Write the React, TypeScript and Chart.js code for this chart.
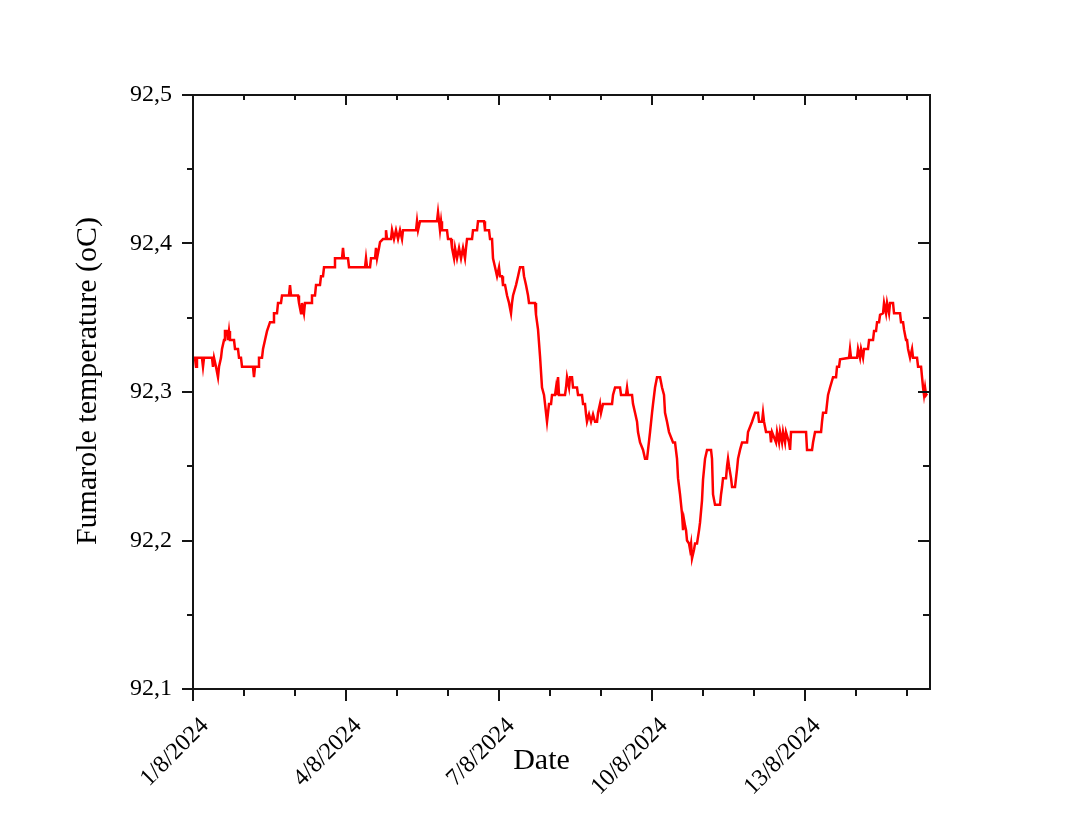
import { useEffect, useRef } from 'react';
import { Chart, registerables } from 'chart.js';

Chart.register(...registerables);

// [days since 1/8/2024 00:00, fumarole temperature in °C]
const readings: [number, number][] = [
  [0, 92.323], [0.039, 92.323], [0.059, 92.317], [0.078, 92.323], [0.176, 92.323], [0.196, 92.317], [0.216, 92.323],
  [0.373, 92.323], [0.392, 92.317], [0.412, 92.323], [0.451, 92.317], [0.49, 92.31], [0.51, 92.317], [0.549, 92.323],
  [0.569, 92.329], [0.608, 92.335], [0.627, 92.341], [0.667, 92.341], [0.686, 92.335], [0.706, 92.341], [0.725, 92.335],
  [0.804, 92.335], [0.824, 92.329], [0.882, 92.329], [0.902, 92.323], [0.941, 92.323], [0.961, 92.317], [1.176, 92.317],
  [1.196, 92.31], [1.216, 92.317], [1.275, 92.317], [1.294, 92.323], [1.353, 92.323], [1.373, 92.329], [1.412, 92.335],
  [1.451, 92.341], [1.51, 92.347], [1.569, 92.347], [1.588, 92.353], [1.647, 92.353], [1.667, 92.36], [1.725, 92.36],
  [1.745, 92.365], [1.882, 92.365], [1.902, 92.372], [1.922, 92.365], [2.059, 92.365], [2.078, 92.36], [2.118, 92.353],
  [2.137, 92.36], [2.176, 92.353], [2.196, 92.36], [2.314, 92.36], [2.333, 92.365], [2.392, 92.365], [2.412, 92.372],
  [2.49, 92.372], [2.51, 92.378], [2.549, 92.378], [2.569, 92.384], [2.765, 92.384], [2.784, 92.39], [2.922, 92.39],
  [2.941, 92.397], [2.961, 92.39], [3.039, 92.39], [3.059, 92.384], [3.373, 92.384], [3.392, 92.39], [3.412, 92.384],
  [3.471, 92.384], [3.49, 92.39], [3.569, 92.39], [3.588, 92.397], [3.608, 92.39], [3.647, 92.397], [3.667, 92.401],
  [3.725, 92.403], [3.765, 92.403], [3.784, 92.409], [3.804, 92.403], [3.882, 92.403], [3.902, 92.409], [3.941, 92.403],
  [3.98, 92.409], [4.02, 92.403], [4.059, 92.409], [4.098, 92.403], [4.118, 92.409], [4.373, 92.409], [4.392, 92.415],
  [4.412, 92.409], [4.451, 92.415], [4.784, 92.415], [4.804, 92.421], [4.824, 92.415], [4.843, 92.409], [4.863, 92.415],
  [4.882, 92.409], [4.98, 92.409], [5.0, 92.403], [5.059, 92.403], [5.078, 92.397], [5.118, 92.39], [5.137, 92.397],
  [5.176, 92.39], [5.216, 92.397], [5.255, 92.39], [5.294, 92.397], [5.333, 92.39], [5.353, 92.397], [5.373, 92.403],
  [5.471, 92.403], [5.49, 92.409], [5.569, 92.409], [5.588, 92.415], [5.706, 92.415], [5.725, 92.409], [5.804, 92.409],
  [5.824, 92.403], [5.863, 92.403], [5.882, 92.39], [5.922, 92.384], [5.961, 92.378], [6.0, 92.384], [6.02, 92.378],
  [6.059, 92.378], [6.078, 92.372], [6.118, 92.372], [6.157, 92.365], [6.196, 92.36], [6.235, 92.353], [6.255, 92.36],
  [6.275, 92.365], [6.333, 92.372], [6.373, 92.378], [6.412, 92.384], [6.471, 92.384], [6.49, 92.378], [6.529, 92.372],
  [6.569, 92.365], [6.588, 92.36], [6.706, 92.36], [6.725, 92.352], [6.765, 92.342], [6.804, 92.324], [6.843, 92.303],
  [6.882, 92.298], [6.902, 92.292], [6.941, 92.28], [6.98, 92.292], [7.02, 92.292], [7.039, 92.298], [7.098, 92.298],
  [7.118, 92.303], [7.137, 92.298], [7.157, 92.31], [7.176, 92.298], [7.294, 92.298], [7.314, 92.303], [7.333, 92.31],
  [7.373, 92.303], [7.392, 92.31], [7.431, 92.31], [7.451, 92.303], [7.529, 92.303], [7.549, 92.298], [7.627, 92.298],
  [7.647, 92.292], [7.686, 92.292], [7.706, 92.285], [7.725, 92.28], [7.765, 92.285], [7.804, 92.28], [7.843, 92.285],
  [7.882, 92.28], [7.922, 92.28], [7.941, 92.286], [7.98, 92.292], [8.0, 92.286], [8.039, 92.292], [8.216, 92.292],
  [8.235, 92.298], [8.275, 92.303], [8.373, 92.303], [8.392, 92.298], [8.49, 92.298], [8.51, 92.303], [8.529, 92.298],
  [8.608, 92.298], [8.627, 92.292], [8.667, 92.286], [8.706, 92.28], [8.725, 92.273], [8.765, 92.266], [8.824, 92.261],
  [8.863, 92.255], [8.902, 92.255], [8.922, 92.261], [8.961, 92.273], [9.0, 92.286], [9.02, 92.292], [9.059, 92.303],
  [9.098, 92.31], [9.157, 92.31], [9.196, 92.303], [9.235, 92.298], [9.255, 92.286], [9.294, 92.28], [9.333, 92.273],
  [9.412, 92.266], [9.451, 92.266], [9.49, 92.255], [9.51, 92.242], [9.549, 92.231], [9.588, 92.218], [9.608, 92.207],
  [9.627, 92.214], [9.647, 92.21], [9.667, 92.207], [9.686, 92.2], [9.725, 92.198], [9.745, 92.194], [9.765, 92.198],
  [9.784, 92.188], [9.824, 92.194], [9.843, 92.198], [9.882, 92.198], [9.922, 92.207], [9.941, 92.212], [9.98, 92.227],
  [10.0, 92.241], [10.039, 92.255], [10.078, 92.261], [10.157, 92.261], [10.176, 92.255], [10.196, 92.231], [10.235, 92.224],
  [10.333, 92.224], [10.353, 92.231], [10.373, 92.236], [10.392, 92.242], [10.451, 92.242], [10.471, 92.25], [10.49, 92.255],
  [10.51, 92.25], [10.549, 92.242], [10.569, 92.236], [10.627, 92.236], [10.647, 92.242], [10.667, 92.248], [10.686, 92.255],
  [10.725, 92.261], [10.765, 92.266], [10.863, 92.266], [10.882, 92.273], [10.961, 92.28], [11.02, 92.286], [11.078, 92.286],
  [11.098, 92.28], [11.157, 92.28], [11.176, 92.286], [11.196, 92.28], [11.235, 92.273], [11.314, 92.273], [11.333, 92.266],
  [11.353, 92.273], [11.431, 92.266], [11.451, 92.273], [11.49, 92.266], [11.51, 92.273], [11.549, 92.266], [11.569, 92.273],
  [11.608, 92.266], [11.627, 92.273], [11.686, 92.266], [11.706, 92.261], [11.725, 92.273], [12.02, 92.273], [12.039, 92.261],
  [12.137, 92.261], [12.157, 92.266], [12.196, 92.273], [12.314, 92.273], [12.333, 92.28], [12.353, 92.286], [12.412, 92.286],
  [12.431, 92.292], [12.451, 92.298], [12.49, 92.303], [12.549, 92.31], [12.608, 92.31], [12.627, 92.317], [12.667, 92.317],
  [12.686, 92.322], [12.863, 92.323], [12.882, 92.329], [12.902, 92.323], [13.02, 92.323], [13.039, 92.329], [13.078, 92.323],
  [13.098, 92.329], [13.137, 92.323], [13.157, 92.329], [13.235, 92.329], [13.255, 92.335], [13.333, 92.335], [13.353, 92.341],
  [13.392, 92.341], [13.412, 92.347], [13.451, 92.347], [13.471, 92.352], [13.529, 92.353], [13.549, 92.36], [13.588, 92.353],
  [13.608, 92.36], [13.647, 92.353], [13.667, 92.36], [13.725, 92.36], [13.745, 92.353], [13.863, 92.353], [13.882, 92.347],
  [13.922, 92.347], [13.941, 92.342], [13.98, 92.335], [14.0, 92.335], [14.02, 92.329], [14.059, 92.323], [14.098, 92.329],
  [14.118, 92.323], [14.196, 92.323], [14.216, 92.317], [14.275, 92.317], [14.294, 92.31], [14.314, 92.303], [14.333, 92.298],
  [14.353, 92.303], [14.373, 92.298], [14.392, 92.299],
];

const xMajorDays = [0, 3, 6, 9, 12];
const xTickLabels = ['1/8/2024', '4/8/2024', '7/8/2024', '10/8/2024', '13/8/2024'];
const yMajorValues = [92.1, 92.2, 92.3, 92.4, 92.5];
const yTickLabels = ['92,1', '92,2', '92,3', '92,4', '92,5'];
const xTitle = 'Date';
const yTitle = 'Fumarole temperature (oC)';
const xMin = 0;
const xMax = 14.45;
const yMin = 92.1;
const yMax = 92.5;

const SERIF = '"Liberation Serif", "Times New Roman", Times, serif';

function xLabel(v: number): string {
  const i = xMajorDays.findIndex((d) => Math.abs(d - v) < 1e-6);
  return i >= 0 ? xTickLabels[i] : '';
}
function yLabel(v: number): string {
  const i = yMajorValues.findIndex((d) => Math.abs(d - v) < 1e-6);
  return i >= 0 ? yTickLabels[i] : '';
}

const framePlugin = {
  id: 'originFrame',
  afterDraw(chart: any) {
    const { ctx, chartArea: a, scales } = chart;
    const xs = scales.x;
    const ys = scales.y;
    ctx.save();
    ctx.strokeStyle = '#151515';
    ctx.lineWidth = 2;
    ctx.lineCap = 'butt';
    ctx.strokeRect(a.left, a.top, a.right - a.left, a.bottom - a.top);
    ctx.beginPath();
    xs.ticks.forEach((t: any) => {
      const px = Math.round(xs.getPixelForValue(t.value));
      const major = xLabel(t.value) !== '';
      ctx.moveTo(px, a.bottom);
      ctx.lineTo(px, a.bottom + (major ? 12 : 7));
      ctx.moveTo(px, a.top);
      ctx.lineTo(px, a.top + (major ? 10 : 5));
    });
    ys.ticks.forEach((t: any) => {
      const py = Math.round(ys.getPixelForValue(t.value));
      const major = yLabel(t.value) !== '';
      ctx.moveTo(a.left, py);
      ctx.lineTo(a.left - (major ? 11 : 6), py);
      ctx.moveTo(a.right, py);
      ctx.lineTo(a.right - (major ? 12 : 7), py);
    });
    ctx.stroke();

    ctx.fillStyle = '#000';
    ctx.font = `30px ${SERIF}`;
    ctx.textAlign = 'center';
    ctx.textBaseline = 'middle';
    ctx.fillText(xTitle, (a.left + a.right) / 2 - 20, a.bottom + 72);
    ctx.translate(a.left - 105, (a.top + a.bottom) / 2 - 11);
    ctx.rotate(-Math.PI / 2);
    ctx.fillText(yTitle, 0, 0);
    ctx.restore();
  },
};

export default function App() {
  const canvasRef = useRef<HTMLCanvasElement | null>(null);

  useEffect(() => {
    const canvas = canvasRef.current;
    if (!canvas) return;
    const chart = new Chart(canvas, {
      type: 'line',
      data: {
        datasets: [
          {
            label: 'Fumarole temperature',
            data: readings.map(([d, t]) => ({ x: d, y: t })),
            borderColor: '#ff0000',
            backgroundColor: '#ff0000',
            borderWidth: 2.5,
            pointRadius: 0,
            tension: 0,
            fill: false,
          },
        ],
      },
      options: {
        responsive: false,
        animation: false,
        layout: { padding: { top: 95, right: 150, left: 0, bottom: 0 } },
        plugins: {
          legend: { display: false },
          tooltip: { enabled: false },
          title: { display: false },
        },
        scales: {
          x: {
            type: 'linear',
            min: xMin,
            max: xMax,
            afterFit: (s: any) => {
              s.height = 138;
            },
            border: { display: false },
            grid: { display: true, drawOnChartArea: false, drawTicks: true, tickLength: 12, color: 'rgba(0,0,0,0)' },
            ticks: {
              stepSize: 1,
              includeBounds: false,
              autoSkip: false,
              maxTicksLimit: 100,
              minRotation: 45,
              maxRotation: 45,
              padding: 11,
              labelOffset: 12,
              color: '#000',
              font: { family: SERIF, size: 24 },
              callback: (v: any) => xLabel(Number(v)),
            },
          },
          y: {
            type: 'linear',
            min: yMin,
            max: yMax,
            afterFit: (s: any) => {
              s.width = 193;
            },
            border: { display: false },
            grid: { display: true, drawOnChartArea: false, drawTicks: true, tickLength: 11, color: 'rgba(0,0,0,0)' },
            ticks: {
              stepSize: 0.05,
              includeBounds: false,
              autoSkip: false,
              maxTicksLimit: 100,
              padding: 10,
              color: '#000',
              font: { family: SERIF, size: 24 },
              callback: (v: any) => yLabel(Number(v)),
            },
          },
        },
      },
      plugins: [framePlugin],
    });
    return () => chart.destroy();
  }, []);

  return (
    <div style={{ position: 'absolute', left: 0, top: 0, width: 1080, height: 827, background: '#fff' }}>
      <canvas ref={canvasRef} width={1080} height={827} style={{ display: 'block' }} />
    </div>
  );
}
